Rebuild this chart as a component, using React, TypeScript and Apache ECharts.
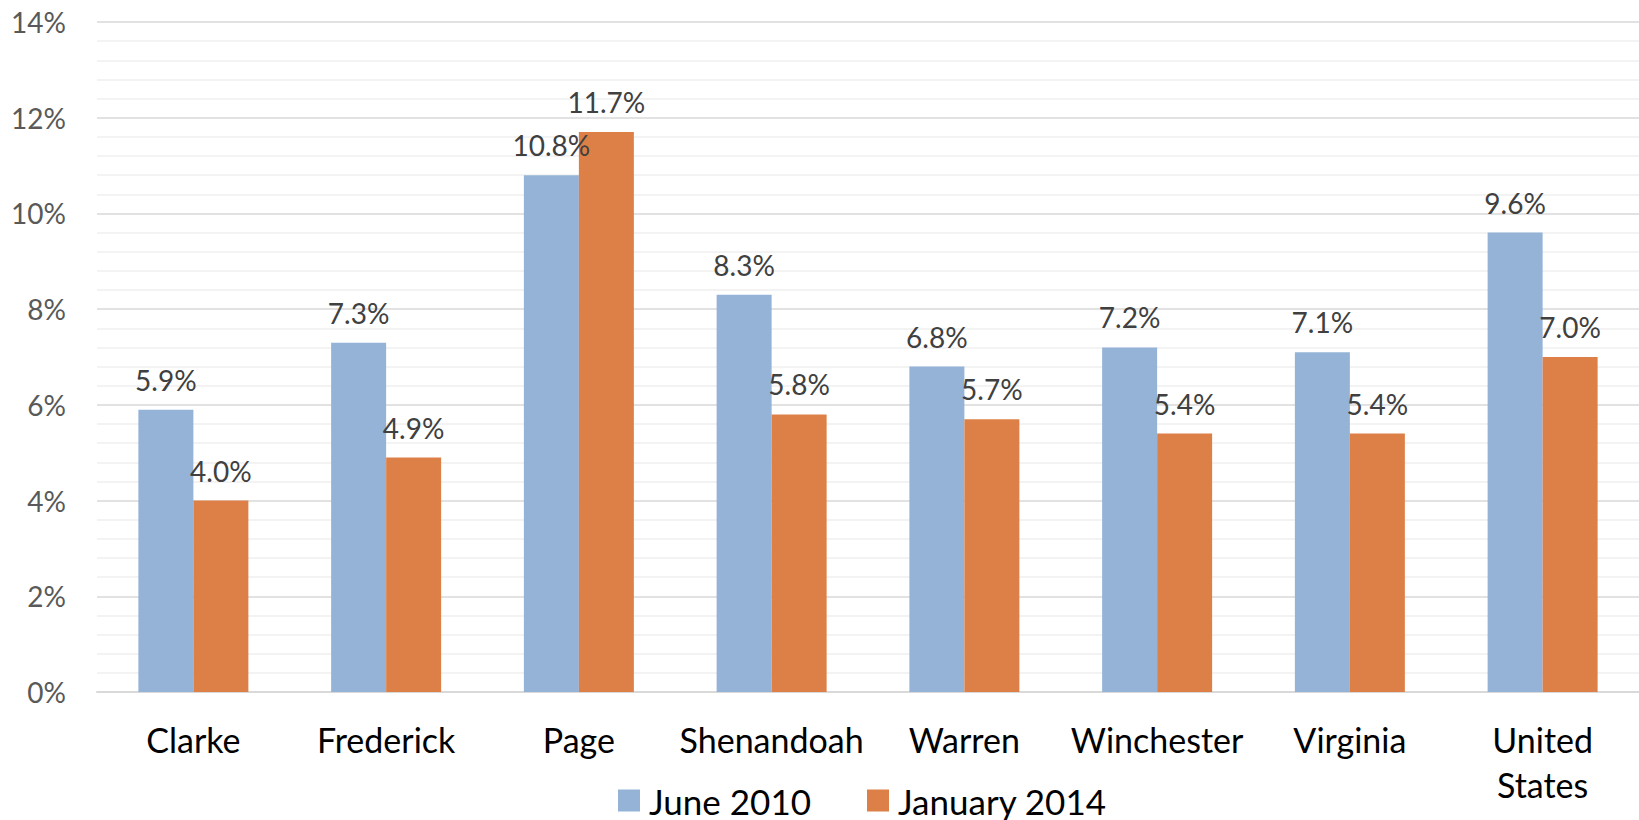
import React, { useEffect, useRef } from "react";
import * as echarts from "echarts";

const categories = ["Clarke", "Frederick", "Page", "Shenandoah", "Warren", "Winchester", "Virginia", "United States"];
const june2010 = [5.9, 7.3, 10.8, 8.3, 6.8, 7.2, 7.1, 9.6];
const january2014 = [4.0, 4.9, 11.7, 5.8, 5.7, 5.4, 5.4, 7.0];
const seriesNames = ["June 2010", "January 2014"];
const yTicks = { min: 0, max: 14, interval: 2 };

const FONT = "Lato";

export default function App() {
  const ref = useRef<HTMLDivElement>(null);
  useEffect(() => {
    if (!ref.current) return;
    const chart = echarts.init(ref.current, undefined, { renderer: "svg" });
    const labelCfg = {
      show: true,
      position: "top",
      distance: 16,
      color: "#404040",
      fontSize: 28,
      fontFamily: FONT,
      formatter: (p: any) => p.value.toFixed(1) + "%",
    };
    chart.setOption({
      animation: false,
      backgroundColor: "#ffffff",
      grid: { left: 97, right: -6, top: 22, bottom: 128, containLabel: false },
      legend: {
        data: seriesNames,
        left: 613,
        top: 778,
        padding: [5, 5, 0, 5],
        icon: "rect",
        itemWidth: 22,
        itemHeight: 22,
        itemGap: 56,
        textStyle: {
          color: "#000000",
          fontSize: 35,
          fontFamily: FONT,
          lineHeight: 32,
          padding: [0, 0, 0, 4],
        },
      },
      xAxis: {
        type: "category",
        data: categories,
        axisLine: { show: true, lineStyle: { color: "#d9d9d9", width: 2 } },
        axisTick: { show: false },
        axisLabel: {
          interval: 0,
          margin: 25,
          color: "#000000",
          fontSize: 34,
          lineHeight: 45,
          fontFamily: FONT,
          formatter: (v: string) => v.replace(" ", "\n"),
        },
      },
      yAxis: {
        type: "value",
        min: yTicks.min,
        max: yTicks.max,
        interval: yTicks.interval,
        axisLine: { show: false },
        axisTick: { show: false },
        axisLabel: {
          formatter: "{value}%",
          color: "#595959",
          fontSize: 28,
          fontFamily: FONT,
          margin: 31,
        },
        splitLine: { show: true, lineStyle: { color: "#d9d9d9", width: 1.5 } },
        minorTick: { show: false, splitNumber: 5 },
        minorSplitLine: { show: true, lineStyle: { color: "#efefef", width: 1.5 } },
      },
      series: [
        {
          name: seriesNames[0],
          type: "bar",
          data: june2010,
          barWidth: 55,
          barGap: "0%",
          itemStyle: { color: "#95b3d7" },
          label: labelCfg,
        },
        {
          name: seriesNames[1],
          type: "bar",
          data: january2014,
          barWidth: 55,
          barGap: "0%",
          itemStyle: { color: "#dd8047" },
          label: labelCfg,
        },
      ],
    });
    return () => chart.dispose();
  }, []);
  return (
    <div
      ref={ref}
      style={{ position: "absolute", left: 0, top: 0, width: 1639, height: 820 }}
    />
  );
}
